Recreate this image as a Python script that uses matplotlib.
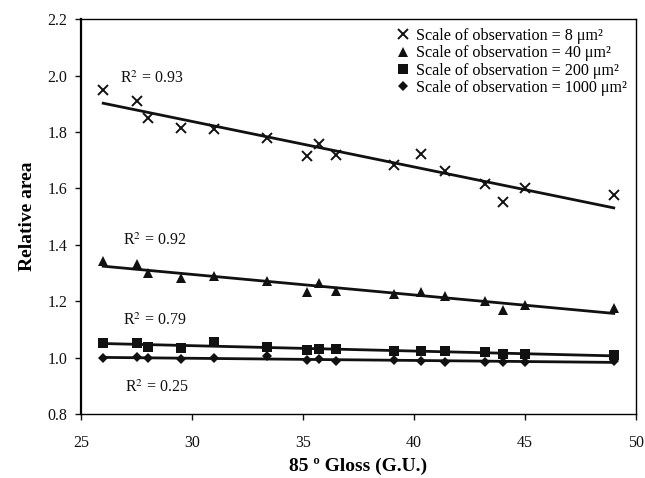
import numpy as np
import matplotlib
matplotlib.use("Agg")
import matplotlib.pyplot as plt

plt.rcParams['font.family'] = ['Liberation Serif', 'DejaVu Serif']
plt.rcParams['mathtext.fontset'] = 'stix'

gloss = [26.0, 27.5, 28.0, 29.5, 31.0, 33.4, 35.2, 35.7, 36.5, 39.1, 40.3, 41.4, 43.2, 44.0, 45.0, 49.0]
area_8 = [1.95, 1.91, 1.85, 1.815, 1.81, 1.778, 1.714, 1.756, 1.717, 1.681, 1.72, 1.661, 1.614, 1.551, 1.602, 1.576]
area_40 = [1.341, 1.332, 1.299, 1.282, 1.288, 1.273, 1.233, 1.263, 1.237, 1.225, 1.234, 1.217, 1.199, 1.169, 1.187, 1.175]
area_200 = [1.050, 1.053, 1.039, 1.033, 1.056, 1.039, 1.026, 1.030, 1.030, 1.022, 1.022, 1.022, 1.018, 1.012, 1.012, 1.010]
area_1000 = [0.998, 1.002, 0.998, 0.994, 1.000, 1.005, 0.991, 0.994, 0.988, 0.992, 0.988, 0.985, 0.985, 0.985, 0.985, 0.988]

labels = ["Scale of observation = 8 μm²", "Scale of observation = 40 μm²",
          "Scale of observation = 200 μm²", "Scale of observation = 1000 μm²"]
r2_texts = [r"R$^2$ = 0.93", r"R$^2$ = 0.92", r"R$^2$ = 0.79", r"R$^2$ = 0.25"]
r2_pos = [(26.75, 1.99), (26.9, 1.415), (26.9, 1.13), (27.0, 0.892)]

xticks = [25, 30, 35, 40, 45, 50]
yticks = [0.8, 1.0, 1.2, 1.4, 1.6, 1.8, 2.0, 2.2]

fig = plt.figure(figsize=(6.45, 4.78), dpi=100)
ax = fig.add_axes([0.1256, 0.134, 0.8604, 0.826])

styles = [dict(marker='x', ms=7, mew=1.4),
          dict(marker='^', ms=7.5, mew=0),
          dict(marker='s', ms=7, mew=0),
          dict(marker='D', ms=5.5, mew=0)]
series = [area_8, area_40, area_200, area_1000]
x = np.array(gloss)
for ys, st, lab in zip(series, styles, labels):
    y = np.array(ys)
    k, b = np.polyfit(x, y, 1)
    xx = np.array([x.min(), x.max()])
    ax.plot(xx, k * xx + b, color='#111111', lw=2.0, zorder=2)
    ax.plot(x, y, ls='none', color='#111111', label=lab, zorder=3, **st)

for t, (px, py) in zip(r2_texts, r2_pos):
    ax.text(px, py, t, fontsize=11.5, va='center', ha='left', color='#111111')

ax.set_xlim(25, 50)
ax.set_ylim(0.8, 2.2)
ax.set_xticks(xticks)
ax.set_yticks(yticks)
ax.set_yticklabels([f"{v:.1f}" for v in yticks])
ax.tick_params(direction='out', length=4, width=1, labelsize=11.5, colors='#111111')
ax.tick_params(axis='x', pad=11)
ax.tick_params(axis='y', pad=6)
for s in ax.spines.values():
    s.set_linewidth(1.0)
ax.spines['left'].set_linewidth(1.6)
ax.set_xlabel("85 º Gloss (G.U.)", fontsize=14, fontweight='bold', labelpad=5)
ax.set_ylabel("Relative area", fontsize=14, fontweight='bold', labelpad=8)

leg = ax.legend(loc='upper right', frameon=False, fontsize=11.6, handletextpad=0.3,
                handlelength=1.0, labelspacing=0.08, borderaxespad=0.15)

fig.savefig("out.png", dpi=100)
